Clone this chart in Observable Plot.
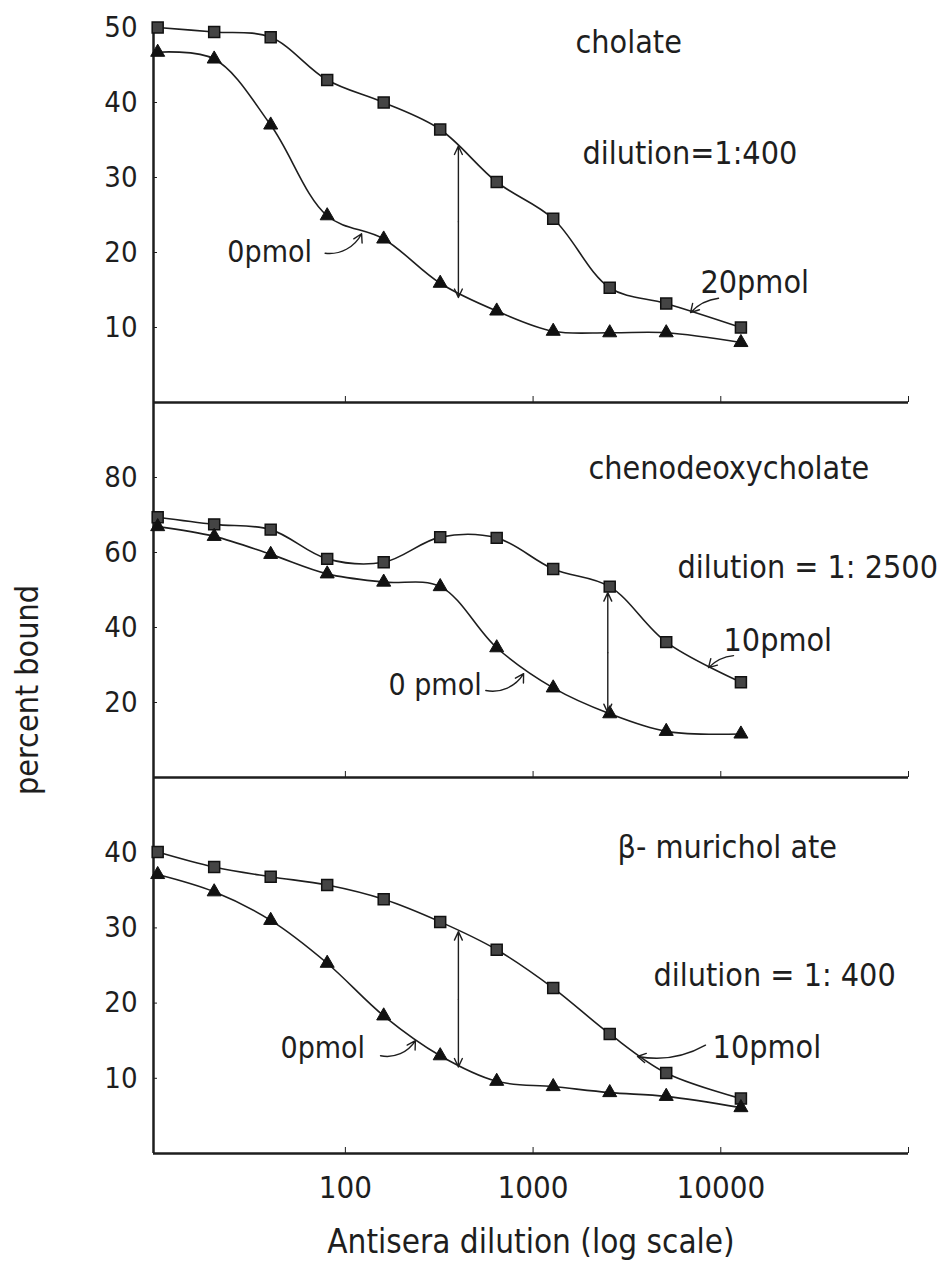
<!DOCTYPE html>
<html><head><meta charset="utf-8">
<script src="https://cdn.jsdelivr.net/npm/d3@7"></script>
<script src="https://cdn.jsdelivr.net/npm/@observablehq/plot@0.6"></script>
<style>
body{margin:0;background:#fff;}
#chart{width:943px;}
#chart svg{display:block;overflow:visible;}
</style></head><body><div id="chart"></div>
<script>
// ---- data ----
const dilutions = [10,20,40,80,160,320,640,1280,2560,5120,12800];
const cholate20 = [50.0,49.4,48.7,43.0,40.0,36.4,29.4,24.5,15.3,13.2,10.0];
const cholate0  = [46.7,45.8,37.0,24.9,21.8,15.9,12.2,9.5,9.3,9.3,8.0];
const cheno10   = [69.4,67.5,66.1,58.3,57.4,64.1,63.9,55.6,50.9,36.1,25.4];
const cheno0    = [66.9,64.3,59.5,54.3,52.1,50.9,34.6,23.9,17.0,12.3,11.6];
const muri10    = [40.1,38.1,36.8,35.7,33.8,30.8,27.1,22.0,15.9,10.7,7.3];
const muri0     = [37.1,34.8,31.0,25.3,18.3,13.0,9.6,8.9,8.1,7.6,6.1];
const xTicks = [100,1000,10000,100000];
const xTickLabels = ["100","1000","10000",""];
const panelTitles = ["cholate","chenodeoxycholate","β- murichol ate"];
const dilutionLabels = ["dilution=1:400","dilution = 1: 2500","dilution = 1: 400"];
const amountLabels = ["20pmol","10pmol","10pmol"];
const zeroLabels = ["0pmol","0 pmol","0pmol"];
const antiseraDilutions = [400,2500,400];
const yMax = [50,100,50];
const yTickSets = [[10,20,30,40,50],[20,40,60,80],[10,20,30,40]];
const yLabel = "percent bound";
const xLabel = "Antisera dilution (log scale)";
const xDomain = [9.5,100000];

// ---- layout (annotation anchors in data units) ----
const panels = [
  {high: cholate20, low: cholate0, height: 402, mt: 27, mb: 0, showX: false,
   title: [1683,48.0], dil: [1834,33.2], amt: [7793,16.0], zero: [23.5,20.0],
   amtArrow: [9725,13.9,6900,12.0,-20], zeroArrow: [78,19.9,122,22.5,-35],
   span: [34.2,14.0]},
  {high: cheno10, low: cheno0, height: 375, mt: 0, mb: 0, showX: false,
   title: [1973,82.4], dil: [5878,56], amt: [10340,36.5], zero: [169.7,24.5],
   amtArrow: [11690,32.5,8600,29.3,-20], zeroArrow: [560,23.2,890,27.7,-35],
   span: [49.3,17.3], ylab: true},
  {high: muri10, low: muri0, height: 486, mt: 0, mb: 110, showX: true,
   title: [2818,40.7], dil: [4383,23.7], amt: [9040,14.1], zero: [45.1,14.0],
   amtArrow: [8290,14.4,3600,12.9,20], zeroArrow: [153.9,13.0,236,15.0,-35],
   span: [29.5,11.5], xlab: true}
];

const FONT = '"DejaVu Sans Condensed", "DejaVu Sans", sans-serif';
const INK = "#1e1e1e";

panels.forEach((p, i) => {
  const hi = dilutions.map((d,k) => ({d, v: p.high[k]}));
  const lo = dilutions.map((d,k) => ({d, v: p.low[k]}));
  const txt = (pos, s, size = 32) => Plot.text([s], {x: pos[0], y: pos[1], text: d => d,
      textAnchor: "start", lineAnchor: "middle", fill: INK, fontSize: size});
  const arr = (a) => Plot.arrow([a], {x1: d=>d[0], y1: d=>d[1], x2: d=>d[2], y2: d=>d[3],
      bend: a[4], stroke: INK, strokeWidth: 1.4, headLength: 10});
  const mid = (p.span[0] + p.span[1]) / 2;
  const marks = [
    Plot.ruleY([0], {stroke: INK, strokeWidth: 2.5}),
    Plot.ruleX([xDomain[0]], {stroke: INK, strokeWidth: 2.5}),
    Plot.axisX({ticks: xTicks, tickSize: -6, tickPadding: 28, label: null, stroke: INK, fill: INK, fontSize: 31,
      tickFormat: p.showX ? (d => xTickLabels[xTicks.indexOf(d)]) : (() => "")}),
    Plot.axisY({ticks: yTickSets[i], tickSize: -4, tickPadding: 20, label: null, stroke: INK, fill: INK, fontSize: 29}),
    Plot.line(hi, {x: "d", y: "v", curve: "catmull-rom", stroke: INK, strokeWidth: 1.6}),
    Plot.line(lo, {x: "d", y: "v", curve: "catmull-rom", stroke: INK, strokeWidth: 1.6}),
    Plot.dot(hi, {x: "d", y: "v", symbol: "square", r: 6.2, fill: "#444", stroke: "#111", strokeWidth: 1.5}),
    Plot.dot(lo, {x: "d", y: "v", symbol: "triangle", r: 5.2, fill: "#111", stroke: "#111", strokeWidth: 1}),
    Plot.arrow([p.span[0], p.span[1]], {x1: antiseraDilutions[i], x2: antiseraDilutions[i], y1: mid, y2: d => d,
      stroke: INK, strokeWidth: 1.4, headLength: 10, headAngle: 50}),
    txt(p.title, panelTitles[i]),
    txt(p.dil, dilutionLabels[i]),
    txt(p.amt, amountLabels[i]),
    txt(p.zero, zeroLabels[i], 30),
    arr(p.amtArrow),
    arr(p.zeroArrow)
  ];
  if (p.ylab) marks.push(Plot.text([yLabel], {frameAnchor: "left", dx: -126, dy: 100, rotate: -90,
      text: d => d, textAnchor: "middle", lineAnchor: "middle", fill: INK, fontSize: 32}));
  if (p.xlab) marks.push(Plot.text([xLabel], {frameAnchor: "bottom", dy: 89,
      text: d => d, textAnchor: "middle", lineAnchor: "middle", fill: INK, fontSize: 33}));
  const svg = Plot.plot({
    width: 943, height: p.height,
    marginLeft: 153, marginRight: 35, marginTop: p.mt, marginBottom: p.mb,
    style: {fontFamily: FONT, fontSize: "28px", color: INK, background: "transparent", overflow: "visible"},
    x: {type: "log", domain: xDomain},
    y: {domain: [0, yMax[i]]},
    marks
  });
  document.getElementById("chart").appendChild(svg);
});
</script>
</body></html>
